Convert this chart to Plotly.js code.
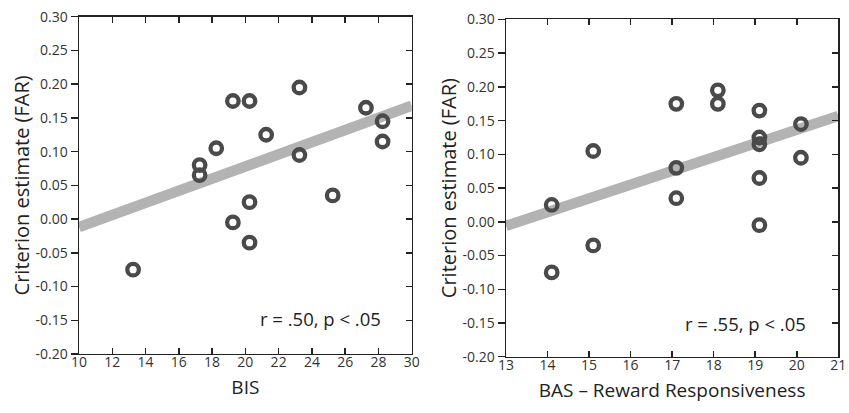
<!DOCTYPE html>
<html>
<head>
<meta charset="utf-8">
<script src="https://cdn.plot.ly/plotly-3.0.1.min.js"></script>
<style>html,body{margin:0;padding:0;background:#fff;}#chart{width:849px;height:413px;}</style>
</head>
<body>
<div id="chart"></div>
<script>
// ---- data ----
const bisX = [13.25, 17.25, 17.25, 18.25, 19.25, 20.25, 19.25, 20.25, 20.25, 21.25, 23.25, 23.25, 25.25, 27.25, 28.25, 28.25];
const bisY = [-0.075, 0.080, 0.065, 0.105, 0.175, 0.175, -0.005, 0.025, -0.035, 0.125, 0.195, 0.095, 0.035, 0.165, 0.145, 0.115];
const bisFitX = [10, 30];
const bisFitY = [-0.012, 0.168];

const basX = [14.1, 14.1, 15.1, 15.1, 17.1, 17.1, 17.1, 18.1, 18.1, 19.1, 19.1, 19.1, 19.1, 19.1, 20.1, 20.1];
const basY = [0.025, -0.075, 0.105, -0.035, 0.175, 0.080, 0.035, 0.195, 0.175, 0.165, 0.125, 0.115, 0.065, -0.005, 0.145, 0.095];
const basFitX = [13, 21];
const basFitY = [-0.006, 0.157];

const bisTicks = [10, 12, 14, 16, 18, 20, 22, 24, 26, 28, 30];
const basTicks = [13, 14, 15, 16, 17, 18, 19, 20, 21];
const yTicks = [-0.20, -0.15, -0.10, -0.05, 0.00, 0.05, 0.10, 0.15, 0.20, 0.25, 0.30];
const yTickText = ['-0.20', '-0.15', '-0.10', '-0.05', '0.00', '0.05', '0.10', '0.15', '0.20', '0.25', '0.30'];

const yTitle = 'Criterion estimate (FAR)';
const bisTitle = 'BIS';
const basTitle = 'BAS \u2013 Reward Responsiveness';
const bisNote = 'r = .50, p < .05';
const basNote = 'r = .55, p < .05';

// ---- styles ----
const FONT = '"Open Sans", "Noto Sans", sans-serif';
const markerStyle = {symbol: 'circle-open', size: 11.5, color: '#4a4a4a', line: {width: 4.3, color: '#4a4a4a'}};
const fitStyle = {color: '#b3b3b3', width: 10.5};
const tickFont = {family: FONT, size: 14, color: '#333'};
const xTitleFont = {family: FONT, size: 19, color: '#222'};
const yTitleFont = {family: FONT, size: 20, color: '#222'};

const traces = [
  {x: bisFitX, y: bisFitY, mode: 'lines', line: fitStyle, xaxis: 'x', yaxis: 'y', hoverinfo: 'skip'},
  {x: bisX, y: bisY, mode: 'markers', marker: markerStyle, xaxis: 'x', yaxis: 'y'},
  {x: basFitX, y: basFitY, mode: 'lines', line: fitStyle, xaxis: 'x2', yaxis: 'y2', hoverinfo: 'skip'},
  {x: basX, y: basY, mode: 'markers', marker: markerStyle, xaxis: 'x2', yaxis: 'y2'},
  {x: [], y: [], xaxis: 'x3', yaxis: 'y3', mode: 'markers'},
  {x: [], y: [], xaxis: 'x4', yaxis: 'y4', mode: 'markers'}
];

const lineBase = {showline: true, linecolor: '#222', linewidth: 1.5, tickcolor: '#222', tickwidth: 1.5,
  showgrid: false, zeroline: false, fixedrange: true, automargin: false};

function xMain(range, ticks, domain, anchor, title) {
  return Object.assign({}, lineBase, {domain: domain, range: range, anchor: anchor,
    tickmode: 'array', tickvals: ticks, ticktext: ticks.map(String),
    ticks: 'inside', ticklen: 6, tickfont: tickFont, ticklabelstandoff: -5,
    title: {text: title, font: xTitleFont, standoff: 10}});
}
function xTop(range, ticks, base, anchor) {
  return Object.assign({}, lineBase, {overlaying: base, anchor: anchor, side: 'top', range: range,
    tickmode: 'array', tickvals: ticks, ticks: 'inside', ticklen: 6, showticklabels: false});
}
function yMain(domain, anchor) {
  return Object.assign({}, lineBase, {domain: domain, range: [-0.2, 0.3], anchor: anchor,
    tickmode: 'array', tickvals: yTicks, ticktext: yTickText,
    ticks: 'outside', ticklen: 7, tickfont: tickFont,
    title: {text: yTitle, font: yTitleFont, standoff: 0}});
}
function yRight(base, anchor) {
  return Object.assign({}, lineBase, {overlaying: base, anchor: anchor, side: 'right', range: [-0.2, 0.3],
    tickmode: 'array', tickvals: yTicks, ticks: 'inside', ticklen: 6, showticklabels: false});
}

const layout = {
  width: 849, height: 413,
  margin: {l: 0, r: 0, t: 0, b: 0},
  paper_bgcolor: '#fff', plot_bgcolor: '#fff',
  showlegend: false,
  font: {family: FONT},
  xaxis: xMain([10, 30], bisTicks, [0.0931, 0.4849], 'y', bisTitle),
  yaxis: yMain([0.1429, 0.9596], 'x'),
  xaxis2: xMain([13, 21], basTicks, [0.596, 0.9874], 'y2', basTitle),
  yaxis2: yMain([0.1363, 0.9528], 'x2'),
  xaxis3: xTop([10, 30], bisTicks, 'x', 'y'),
  yaxis3: yRight('y', 'x'),
  xaxis4: xTop([13, 21], basTicks, 'x2', 'y2'),
  yaxis4: yRight('y2', 'x2'),
  annotations: [
    {text: bisNote, xref: 'x domain', yref: 'y domain', x: 0.913, y: 0.105, xanchor: 'right', yanchor: 'middle',
     showarrow: false, font: {family: FONT, size: 18.5, color: '#222'}},
    {text: basNote, xref: 'x2 domain', yref: 'y2 domain', x: 0.909, y: 0.098, xanchor: 'right', yanchor: 'middle',
     showarrow: false, font: {family: FONT, size: 18.5, color: '#222'}}
  ]
};

Plotly.newPlot('chart', traces, layout, {displayModeBar: false, staticPlot: true});
</script>
</body>
</html>
